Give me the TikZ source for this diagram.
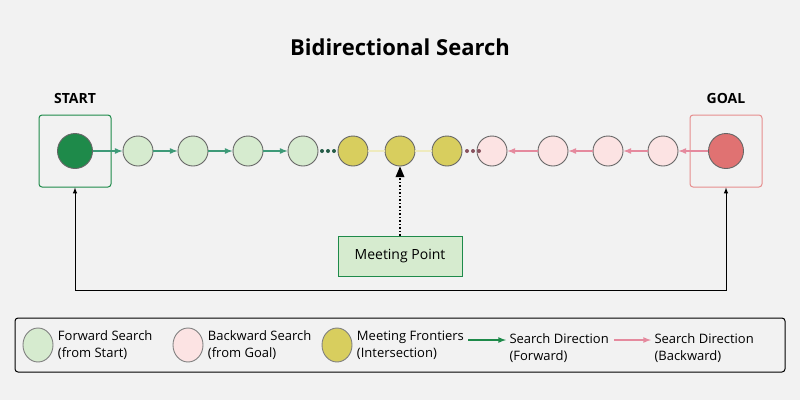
\documentclass[tikz,border=0pt]{standalone}
\usepackage{fontspec}
\setmainfont{Open Sans}
\usetikzlibrary{shapes,arrows,positioning}
\definecolor{bg}{HTML}{F2F2F2}
\definecolor{fwd}{HTML}{D6EBCF}
\definecolor{bwd}{HTML}{FCE3E3}
\definecolor{meet}{HTML}{D8CE5E}
\definecolor{dgreen}{HTML}{1E8A4A}
\definecolor{dred}{HTML}{E07272}
\definecolor{agreen}{HTML}{3E9A78}
\definecolor{apink}{HTML}{E58A9E}
\begin{document}
\begin{tikzpicture}[x=1pt,y=-1pt]
		\tikzstyle {state} = [circle, draw=black!60, line width=0.9pt, minimum size=30pt, inner sep=0pt]
		\tikzstyle {fwd arrow} = [-latex, agreen, line width=1.6pt]
		\tikzstyle {bwd arrow} = [-latex, apink, line width=1.6pt]
		\tikzstyle {legend text} = [anchor=west, align=left, font=\fontsize{13}{17}\selectfont]
		\tikzstyle {legend mark} = [ellipse, draw=black!50, line width=0.9pt, minimum width=30pt, minimum height=34pt, inner sep=0pt]
		\tikzstyle {dot} = [circle, fill=#1, inner sep=0pt, minimum size=4pt]

		\fill[bg] (0,0) rectangle (800,400);
		\node at (400,47) {\fontsize{22}{26}\selectfont\bfseries Bidirectional Search};
		\node at (75,98) {\fontsize{14}{16}\selectfont\bfseries START};
		\node at (726,98) {\fontsize{14}{16}\selectfont\bfseries GOAL};

		% start and goal
		\node[draw=dgreen, line width=1pt, rounded corners=3pt, minimum size=72pt] (startbox) at (75,151) {};
		\node[state, fill=dgreen, minimum size=35pt] (start) at (75,151) {};
		\node[draw=dred!80, line width=1pt, rounded corners=3pt, minimum size=72pt] (goalbox) at (726,151) {};
		\node[state, fill=dred, minimum size=35pt] (goal) at (726,151) {};

		% frontiers
		\foreach \x [count=\i] in {138,193,248,303}
			\node[state, fill=fwd] (f\i) at (\x,151) {};
		\foreach \x [count=\i] in {353,400,447}
			\node[state, fill=meet] (m\i) at (\x,151) {};
		\foreach \x [count=\i] in {663,608,553,492}
			\node[state, fill=bwd] (b\i) at (\x,151) {};

		\draw[fwd arrow] (start) -- (f1);
		\draw[fwd arrow] (f1) -- (f2);
		\draw[fwd arrow] (f2) -- (f3);
		\draw[fwd arrow] (f3) -- (f4);
		\draw[bwd arrow] (goal) -- (b1);
		\draw[bwd arrow] (b1) -- (b2);
		\draw[bwd arrow] (b2) -- (b3);
		\draw[bwd arrow] (b3) -- (b4);
		\draw[meet!40, line width=2.5pt] (m1) -- (m2);
		\draw[meet!40, line width=2.5pt] (m2) -- (m3);

		\foreach \x in {322,328,334}
			\node[dot=agreen!60!black] at (\x,151) {};
		\foreach \x in {467,473,479}
			\node[dot=apink!60!black] at (\x,151) {};

		% meeting point
		\node[draw=dgreen, line width=1pt, fill=fwd, minimum width=124pt, minimum height=40pt,
			font=\fontsize{14}{16}\selectfont] (meetbox) at (400,256) {Meeting Point};
		\draw[-triangle 45, dotted, line width=1.5pt] (meetbox) -- (m2);

		\draw[-latex, line width=1pt] (75,290) -- (startbox);
		\draw[latex-, line width=1pt] (goalbox) |- (75,290);

		% legend
		\draw[line width=1pt, rounded corners=3pt] (15,318) rectangle (785,372);
		\node[legend mark, fill=fwd] (lf) at (38,345) {};
		\node[legend text, right=1pt of lf] {Forward Search\\(from Start)};
		\node[legend mark, fill=bwd] (lb) at (188,345) {};
		\node[legend text, right=1pt of lb] {Backward Search\\(from Goal)};
		\node[legend mark, fill=meet] (lm) at (337,345) {};
		\node[legend text, right=1pt of lm] {Meeting Frontiers\\(Intersection)};
		\coordinate (la) at (468,340);
		\node[legend text] (ltf) at (506,348) {Search Direction\\(Forward)};
		\draw[fwd arrow, dgreen] (la) -- (ltf.west |- la);
		\coordinate (lc) at (614,340);
		\node[legend text] (ltb) at (651,348) {Search Direction\\(Backward)};
		\draw[bwd arrow] (lc) -- (ltb.west |- lc);
\end{tikzpicture}
\end{document}
